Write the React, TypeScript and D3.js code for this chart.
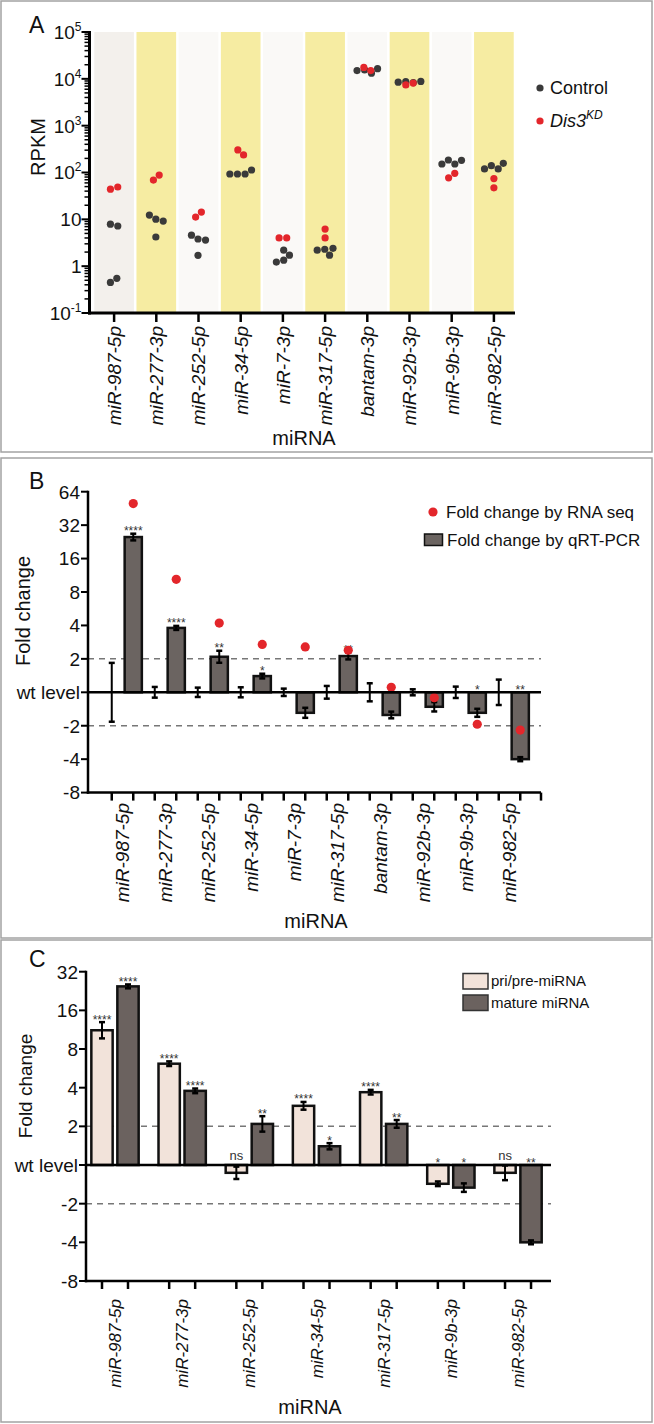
import React from "react";
import * as d3 from "d3";

// ---------- Panel A data ----------
const mirnaA = ["miR-987-5p", "miR-277-3p", "miR-252-5p", "miR-34-5p", "miR-7-3p", "miR-317-5p", "bantam-3p", "miR-92b-3p", "miR-9b-3p", "miR-982-5p"];
const rpkmControl = [
  [7.9, 7.2, 0.45, 0.55],
  [10.1, 9.2, 12.3, 4.2],
  [3.8, 3.6, 4.6, 1.7],
  [93, 93, 93, 113],
  [2.2, 1.72, 1.34, 1.22],
  [2.3, 1.72, 2.2, 2.4],
  [15500, 13200, 15000, 16500],
  [8700, 8300, 8500, 8800],
  [185, 152, 152, 182],
  [140, 119, 119, 157],
];
const rpkmKD = [
  [44, 49],
  [69, 88],
  [11.2, 14.3],
  [303, 237],
  [4.0, 4.0],
  [6.2, 4.0],
  [17500, 15000],
  [7400, 8100],
  [77, 96],
  [74, 47],
];
const rpkmTicks = [0.1, 1, 10, 100, 1000, 10000, 100000];

// ---------- Panel B data ----------
const mirnaB = mirnaA;
const qpcrFold = [25, 3.8, 2.09, 1.4, -1.53, 2.12, -1.6, -1.35, -1.53, -4];
const qpcrErrLog2 = [0.1, 0.06, 0.18, 0.07, 0.15, 0.1, 0.1, 0.14, 0.12, 0.06];
const ctrlErrLog2 = [0.88, 0.16, 0.14, 0.15, 0.11, 0.19, 0.27, 0.09, 0.17, 0.38];
const rnaSeqFold = [50, 10.4, 4.2, 2.7, 2.56, 2.39, 1.11, -1.12, -1.94, -2.19];
const qpcrStars = ["****", "****", "**", "*", "", "**", "", "", "*", "**"];
const foldTicksB = [64, 32, 16, 8, 4, 2, 1, -2, -4, -8];

// ---------- Panel C data ----------
const mirnaC = ["miR-987-5p", "miR-277-3p", "miR-252-5p", "miR-34-5p", "miR-317-5p", "miR-9b-3p", "miR-982-5p"];
const priFold = [11.2, 6.15, -1.15, 2.89, 3.69, -1.4, -1.15];
const priErrLog2 = [0.21, 0.06, 0.16, 0.1, 0.06, 0.06, 0.19];
const priStars = ["****", "****", "ns", "****", "****", "*", "ns"];
const matureFold = [24.6, 3.78, 2.09, 1.4, 2.09, -1.5, -4];
const matureErrLog2 = [0.05, 0.06, 0.2, 0.08, 0.1, 0.11, 0.05];
const matureStars = ["****", "****", "**", "*", "**", "*", "**"];
const foldTicksC = [32, 16, 8, 4, 2, 1, -2, -4, -8];

const FONT = "'Liberation Sans', Arial, Helvetica, sans-serif";
const RED = "#e3262b";
const DARK = "#3a3a3a";

const sl = (v: number) => (v >= 1 ? Math.log2(v) : v <= -1 ? -Math.log2(-v) : 0);

// simple beeswarm: place each point nearest the centre without overlap, then centre the cloud
function dodge(ys: number[], D: number): number[] {
  const placed: { x: number; y: number }[] = [];
  const out: number[] = [];
  for (const y of ys) {
    const cands = [0];
    for (const p of placed) {
      const dy = Math.abs(p.y - y);
      if (dy < D) {
        const dx = Math.sqrt(D * D - dy * dy);
        cands.push(p.x + dx, p.x - dx);
      }
    }
    let best = Infinity;
    for (const c of cands) {
      const ok = placed.every((p) => (p.x - c) ** 2 + (p.y - y) ** 2 >= D * D - 0.01);
      if (ok && Math.abs(c) < Math.abs(best) - 0.01) best = c;
    }
    placed.push({ x: best, y });
    out.push(best);
  }
  const shift = -(Math.min(...out) + Math.max(...out)) / 2;
  return out.map((v) => v + shift);
}

function PanelA() {
  const x = d3.scaleBand<string>().domain(mirnaA).range([93, 515]).paddingInner(0.06).paddingOuter(0.03);
  const y = d3.scaleLog().domain([0.1, 1e5]).range([313, 32]);
  const axisX = 89.5;
  const minor: number[] = [];
  for (let e = -1; e < 5; e++) for (let m = 2; m <= 9; m++) minor.push(m * Math.pow(10, e));
  const supLabel = (v: number) => {
    const e = Math.round(Math.log10(v));
    if (e === 0) return <>1</>;
    if (e === 1) return <>10</>;
    return (
      <>
        10<tspan fontSize={12} dy={-8}>{e}</tspan>
      </>
    );
  };
  return (
    <g>
      <text x={29} y={33} fontSize={23} fontFamily={FONT}>A</text>
      {mirnaA.map((m, i) => (
        <rect key={m} x={x(m)} y={y(1e5)} width={x.bandwidth()} height={y(0.1) - y(1e5)}
          fill={i % 2 === 1 ? "#f6eca2" : i === 0 ? "#f3f0ec" : "#faf9f7"} />
      ))}
      {mirnaA.map((m, i) => {
        const cx = (x(m) as number) + x.bandwidth() / 2;
        const cy = rpkmControl[i].map((v) => y(v));
        const cdx = dodge(cy, 7.6);
        const ky = rpkmKD[i].map((v) => y(v));
        const kdx = dodge(ky, 7.6);
        return (
          <g key={m}>
            {cy.map((yy, j) => <circle key={"c" + j} cx={cx + cdx[j]} cy={yy} r={3.6} fill={DARK} />)}
            {ky.map((yy, j) => <circle key={"k" + j} cx={cx + kdx[j]} cy={yy} r={3.6} fill={RED} />)}
          </g>
        );
      })}
      <line x1={axisX} x2={axisX} y1={y(1e5) - 1} y2={y(0.1) + 1.5} stroke="#000" strokeWidth={3} />
      {minor.map((v) => <line key={v} x1={axisX - 5} x2={axisX} y1={y(v)} y2={y(v)} stroke="#000" strokeWidth={1.5} />)}
      {rpkmTicks.map((v) => (
        <g key={v}>
          <line x1={axisX - 8} x2={axisX} y1={y(v)} y2={y(v)} stroke="#000" strokeWidth={2} />
          <text x={axisX - 8} y={y(v)} dy="0.36em" textAnchor="end" fontSize={19} fontFamily={FONT}>{supLabel(v)}</text>
        </g>
      ))}
      <line x1={axisX - 1.5} x2={515} y1={y(0.1)} y2={y(0.1)} stroke="#000" strokeWidth={3} />
      {mirnaA.map((m) => {
        const cx = (x(m) as number) + x.bandwidth() / 2;
        return (
          <g key={m}>
            <line x1={cx} x2={cx} y1={y(0.1)} y2={y(0.1) + 9} stroke="#000" strokeWidth={2.5} />
            <text transform={`translate(${cx},${326}) rotate(-90)`} textAnchor="end" dy="0.36em" fontSize={19} fontStyle="italic" fontFamily={FONT}>{m}</text>
          </g>
        );
      })}
      <text x={304} y={438} dy="0.35em" textAnchor="middle" fontSize={20} fontFamily={FONT}>miRNA</text>
      <text transform="translate(37.5,147) rotate(-90)" textAnchor="middle" dy="0.35em" fontSize={20} fontFamily={FONT}>RPKM</text>
      <circle cx={540} cy={88} r={3.6} fill={DARK} />
      <text x={550} y={88} dy="0.36em" fontSize={18} fontFamily={FONT}>Control</text>
      <circle cx={540} cy={121} r={3.6} fill={RED} />
      <text x={550} y={121} dy="0.36em" fontSize={18} fontFamily={FONT} fontStyle="italic">
        Dis3<tspan fontSize={12} dy={-8}>KD</tspan>
      </text>
    </g>
  );
}

function ErrorBar({ cx, yTop, yBot, w = 6 }: { cx: number; yTop: number; yBot: number; w?: number }) {
  return (
    <g stroke="#000" strokeWidth={2}>
      <line x1={cx} x2={cx} y1={yTop} y2={yBot} />
      <line x1={cx - w / 2} x2={cx + w / 2} y1={yTop} y2={yTop} strokeWidth={2.5} />
      <line x1={cx - w / 2} x2={cx + w / 2} y1={yBot} y2={yBot} strokeWidth={2.5} />
    </g>
  );
}

function Stars({ cx, label, anchorY }: { cx: number; label: string; anchorY: number }) {
  if (!label) return null;
  return (
    <text x={cx} y={label === "ns" ? anchorY - 5 : anchorY + 1.5} textAnchor="middle" fontSize={label === "ns" ? 13 : 12} fill="#333" fontFamily={FONT}>{label}</text>
  );
}

function PanelB() {
  const gx = d3.scaleBand<string>().domain(mirnaB).range([101, 531]);
  const inner = d3.scaleBand<string>().domain(["ctrl", "kd"]).range([0, gx.bandwidth()]);
  const y = d3.scaleLinear().domain([-3, 6]).range([792.6, 491.7]);
  const axisX = 88;
  const x0 = y(0);
  const barW = inner.bandwidth() * 0.8;
  const tickXs: number[] = [];
  mirnaB.forEach((m) => {
    tickXs.push((gx(m) as number) + (inner("ctrl") as number) + inner.bandwidth() / 2);
    tickXs.push((gx(m) as number) + (inner("kd") as number) + inner.bandwidth() / 2);
  });
  tickXs.push(541);
  return (
    <g>
      <text x={29} y={489} fontSize={23} fontFamily={FONT}>B</text>
      {[1, -1].map((l) => (
        <line key={l} x1={axisX} x2={541} y1={y(l)} y2={y(l)} stroke="#777" strokeWidth={1.5} strokeDasharray="6,5" />
      ))}
      {mirnaB.map((m, i) => {
        const cc = (gx(m) as number) + (inner("ctrl") as number) + inner.bandwidth() / 2;
        const kc = (gx(m) as number) + (inner("kd") as number) + inner.bandwidth() / 2;
        const L = sl(qpcrFold[i]);
        const e = qpcrErrLog2[i];
        const top = Math.min(y(L), x0);
        const errTop = y(L + e);
        return (
          <g key={m}>
            <rect x={kc - barW / 2} y={top} width={barW} height={Math.abs(y(L) - x0)} fill="#6b6461" stroke="#111" strokeWidth={2.5} />
            <ErrorBar cx={kc} yTop={y(L + e)} yBot={y(L - e)} />
            <ErrorBar cx={cc} yTop={y(ctrlErrLog2[i])} yBot={y(-ctrlErrLog2[i])} />
            <Stars cx={kc} label={qpcrStars[i]} anchorY={L > 0 ? errTop : x0} />
            <circle cx={kc} cy={y(sl(rnaSeqFold[i]))} r={4.6} fill={RED} />
          </g>
        );
      })}
      <line x1={axisX} x2={541} y1={x0} y2={x0} stroke="#000" strokeWidth={2.5} />
      <line x1={axisX} x2={axisX} y1={y(6) - 1} y2={y(-3) + 1.2} stroke="#000" strokeWidth={2.5} />
      <line x1={axisX - 1.2} x2={541} y1={y(-3)} y2={y(-3)} stroke="#000" strokeWidth={2.5} />
      {foldTicksB.map((v) => (
        <g key={v}>
          <line x1={axisX - 7} x2={axisX} y1={y(sl(v))} y2={y(sl(v))} stroke="#000" strokeWidth={2} />
          <text x={axisX - 8} y={y(sl(v))} dy="0.36em" textAnchor="end" fontSize={19} fontFamily={FONT}>{v === 1 ? "wt level" : v}</text>
        </g>
      ))}
      {tickXs.map((t, i) => (
        <line key={i} x1={t} x2={t} y1={y(-3)} y2={y(-3) + 8} stroke="#000" strokeWidth={2.5} />
      ))}
      {mirnaB.map((m) => {
        const cx = (gx(m) as number) + gx.bandwidth() / 2;
        return (
          <text key={m} transform={`translate(${cx},${803}) rotate(-90)`} textAnchor="end" dy="0.36em" fontSize={19} fontStyle="italic" fontFamily={FONT}>{m}</text>
        );
      })}
      <text x={316} y={921} dy="0.35em" textAnchor="middle" fontSize={20} fontFamily={FONT}>miRNA</text>
      <text transform="translate(23,611) rotate(-90)" textAnchor="middle" dy="0.35em" fontSize={20} fontFamily={FONT}>Fold change</text>
      <circle cx={433} cy={512} r={4.6} fill={RED} />
      <text x={446} y={512} dy="0.36em" fontSize={17} fontFamily={FONT}>Fold change by RNA seq</text>
      <rect x={424.5} y={534} width={18} height={11.5} fill="#6b6461" stroke="#111" strokeWidth={1.5} />
      <text x={447} y={540} dy="0.36em" fontSize={17} fontFamily={FONT}>Fold change by qRT-PCR</text>
    </g>
  );
}

function PanelC() {
  const gx = d3.scaleBand<string>().domain(mirnaC).range([81.4, 551.6]);
  const inner = d3.scaleBand<string>().domain(["pri", "mature"]).range([7.6, 59.6]);
  const y = d3.scaleLinear().domain([-3, 5]).range([1281, 971.7]);
  const axisX = 86;
  const x0 = y(0);
  const barW = inner.bandwidth() * 0.82;
  const series = [
    { key: "pri", vals: priFold, errs: priErrLog2, stars: priStars, fill: "#f2e3da" },
    { key: "mature", vals: matureFold, errs: matureErrLog2, stars: matureStars, fill: "#6b625f" },
  ];
  const tickXs: number[] = [];
  mirnaC.forEach((m) => series.forEach((s) => tickXs.push((gx(m) as number) + (inner(s.key) as number) + inner.bandwidth() / 2)));
  return (
    <g>
      <text x={29} y={967} fontSize={23} fontFamily={FONT}>C</text>
      {[1, -1].map((l) => (
        <line key={l} x1={axisX} x2={551} y1={y(l)} y2={y(l)} stroke="#777" strokeWidth={1.5} strokeDasharray="6,5" />
      ))}
      {mirnaC.map((m, i) => (
        <g key={m}>
          {series.map((s) => {
            const c = (gx(m) as number) + (inner(s.key) as number) + inner.bandwidth() / 2;
            const L = sl(s.vals[i]);
            const e = s.errs[i];
            return (
              <g key={s.key}>
                <rect x={c - barW / 2} y={Math.min(y(L), x0)} width={barW} height={Math.abs(y(L) - x0)} fill={s.fill} stroke="#111" strokeWidth={2.5} />
                <ErrorBar cx={c} yTop={y(L + e)} yBot={y(L - e)} />
                <Stars cx={c} label={s.stars[i]} anchorY={L > 0 ? y(L + e) : x0} />
              </g>
            );
          })}
        </g>
      ))}
      <line x1={axisX} x2={551} y1={x0} y2={x0} stroke="#000" strokeWidth={2.5} />
      <line x1={axisX} x2={axisX} y1={y(5) - 1} y2={y(-3) + 1.2} stroke="#000" strokeWidth={2.5} />
      <line x1={axisX - 1.2} x2={551} y1={y(-3)} y2={y(-3)} stroke="#000" strokeWidth={2.5} />
      {foldTicksC.map((v) => (
        <g key={v}>
          <line x1={axisX - 7} x2={axisX} y1={y(sl(v))} y2={y(sl(v))} stroke="#000" strokeWidth={2} />
          <text x={axisX - 8} y={y(sl(v))} dy="0.36em" textAnchor="end" fontSize={19} fontFamily={FONT}>{v === 1 ? "wt level" : v}</text>
        </g>
      ))}
      {tickXs.map((t, i) => (
        <line key={i} x1={t} x2={t} y1={y(-3)} y2={y(-3) + 8} stroke="#000" strokeWidth={2.5} />
      ))}
      {mirnaC.map((m) => {
        const cx = (gx(m) as number) + gx.bandwidth() / 2;
        return (
          <text key={m} transform={`translate(${cx},${1299}) rotate(-90)`} textAnchor="end" dy="0.36em" fontSize={17} fontStyle="italic" fontFamily={FONT}>{m}</text>
        );
      })}
      <text x={310} y={1407} dy="0.35em" textAnchor="middle" fontSize={20} fontFamily={FONT}>miRNA</text>
      <text transform="translate(25,1086) rotate(-90)" textAnchor="middle" dy="0.35em" fontSize={19} fontFamily={FONT}>Fold change</text>
      <rect x={463} y={973.5} width={25} height={15.5} fill="#f2e3da" stroke="#333" strokeWidth={1.5} />
      <text x={491} y={981} dy="0.36em" fontSize={15} fontFamily={FONT}>pri/pre-miRNA</text>
      <rect x={463} y={995} width={25} height={15.5} fill="#6b625f" stroke="#333" strokeWidth={1.5} />
      <text x={491} y={1003} dy="0.36em" fontSize={15} fontFamily={FONT}>mature miRNA</text>
    </g>
  );
}

export default function App() {
  return (
    <svg width={654} height={1424} style={{ position: "absolute", left: 0, top: 0, background: "#fff" }} fill="#111">
      <rect x={0} y={0} width={654} height={1424} fill="#fff" />
      <rect x={1} y={1} width={651} height={451} fill="#fff" stroke="#a3a3a3" strokeWidth={1.5} />
      <rect x={1} y={458} width={651} height={480} fill="#fff" stroke="#a3a3a3" strokeWidth={1.5} />
      <rect x={1} y={940} width={651} height={482} fill="#fff" stroke="#a3a3a3" strokeWidth={1.5} />
      <PanelA />
      <PanelB />
      <PanelC />
    </svg>
  );
}
